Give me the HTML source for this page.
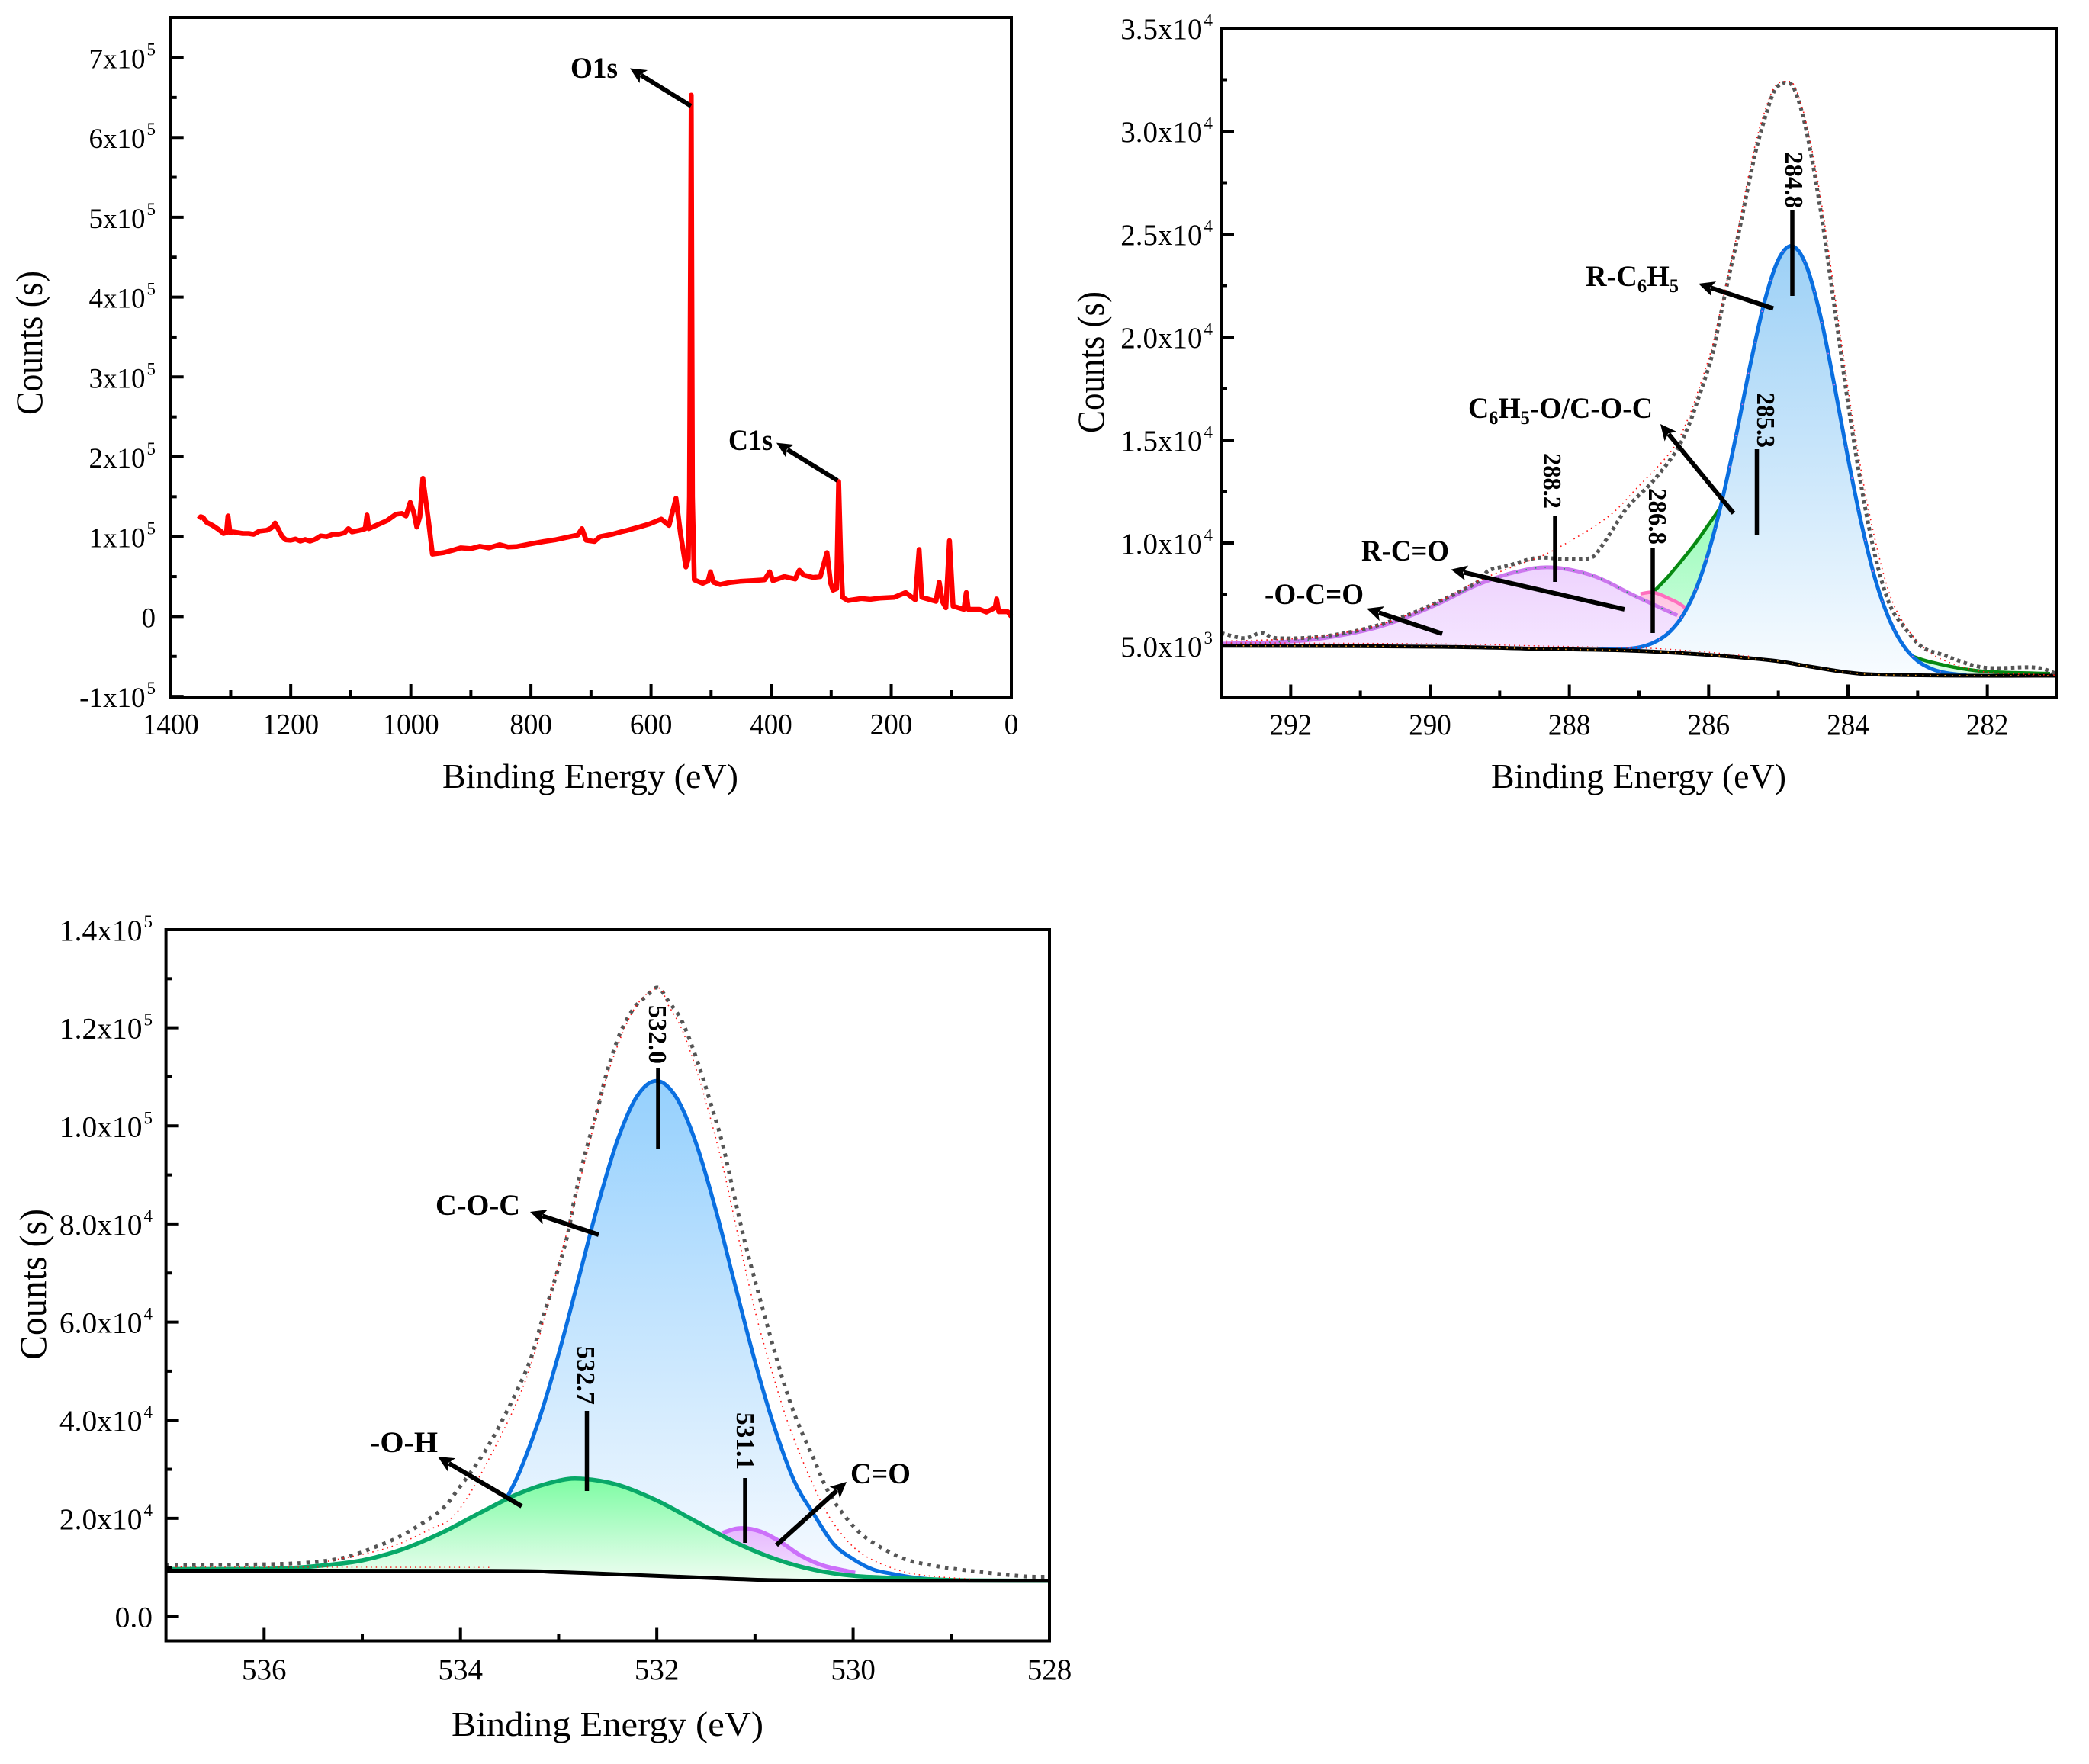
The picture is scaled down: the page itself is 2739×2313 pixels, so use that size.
<!DOCTYPE html>
<html lang="en">
<head>
<meta charset="utf-8">
<title>XPS spectra</title>
<style>
html,body{margin:0;padding:0;background:#fff;}
svg{display:block;font-family:"Liberation Serif",serif;}
</style>
</head>
<body>
<svg id="fig" xmlns="http://www.w3.org/2000/svg" width="2739" height="2313" viewBox="0 0 2739 2313">
<defs>
<linearGradient id="gBlueB" x1="0" y1="0" x2="0" y2="1"><stop offset="0" stop-color="#9cd0f6"/><stop offset="1" stop-color="#f8fcff"/></linearGradient>
<linearGradient id="gBlueC" x1="0" y1="0" x2="0" y2="1"><stop offset="0" stop-color="#95d0fd"/><stop offset="1" stop-color="#f6faff"/></linearGradient>
<linearGradient id="gPurpleB" x1="0" y1="0" x2="0" y2="1"><stop offset="0" stop-color="#eed3fe"/><stop offset="1" stop-color="#f5e6ff"/></linearGradient>
<linearGradient id="gGreenB" x1="0" y1="0" x2="0" y2="1"><stop offset="0" stop-color="#7ffca8"/><stop offset="1" stop-color="#dcfde6"/></linearGradient>
<linearGradient id="gGreenC" x1="0" y1="0" x2="0" y2="1"><stop offset="0" stop-color="#7dfca3"/><stop offset="1" stop-color="#effdf2"/></linearGradient>
<linearGradient id="gPink" x1="0" y1="0" x2="0" y2="1"><stop offset="0" stop-color="#ffc4e2"/><stop offset="1" stop-color="#ffe0f0"/></linearGradient>
<linearGradient id="gPurpleC" x1="0" y1="0" x2="0" y2="1"><stop offset="0" stop-color="#e6b8fe"/><stop offset="1" stop-color="#f4e2ff"/></linearGradient>
</defs>
<g id="panelA"></g>
<g id="panelB"></g>
<g id="panelC"></g>
</svg>
<script>
// ---------- Panel A: survey spectrum ----------
const surveyEnergy = [1353,1350,1346,1340,1330,1320,1312,1307,1304.5,1301,1296,1288,1280,1270,1262,1252,1240,1232,1226,1221,1214,1208,
1200,1192,1184,1176,1168,1160,1150,1140,1130,1120,1110,1104,1098,1085,1076,1073,1070,1055,1040,1025,1015,1008,1001,995,990,985,980,975,970,964,
945,930,917,900,885,870,852,838,824,800,778,760,741,722,715,708,694,685,665,650,639,620,602,583,570,558.5,551,542,538,536,533,531,528,
514,505,501,496,485,470,452,430,411,402.5,397,378,360,353,346,330,318,307,301,297,291,287.6,284,281,272,250,235,219,195,176,160,153.5,149,125.5,120,115,109,103,97,79,75,71.5,53,41.5,27,24.5,21,6,0];
const surveyCounts = [1.22,1.25,1.24,1.18,1.14,1.09,1.04,1.05,1.26,1.05,1.06,1.05,1.04,1.04,1.03,1.07,1.08,1.11,1.17,1.10,1.00,0.96,
0.955,0.97,0.945,0.965,0.945,0.965,1.01,1.00,1.03,1.03,1.05,1.10,1.06,1.08,1.10,1.27,1.10,1.15,1.20,1.28,1.29,1.26,1.43,1.30,1.12,1.25,1.73,1.45,1.16,0.78,
0.80,0.83,0.86,0.85,0.88,0.86,0.90,0.87,0.875,0.91,0.94,0.96,0.99,1.02,1.10,0.955,0.94,1.00,1.03,1.06,1.08,1.12,1.16,1.22,1.14,1.48,1.04,0.62,0.72,1.5,6.53,1.5,0.46,
0.415,0.445,0.56,0.43,0.40,0.425,0.44,0.45,0.46,0.56,0.45,0.50,0.47,0.58,0.52,0.49,0.50,0.80,0.42,0.33,0.35,1.69,0.7,0.24,0.20,0.225,0.215,0.23,0.24,0.30,0.21,0.84,0.24,0.19,0.43,0.19,0.11,0.95,0.13,0.09,0.30,0.09,0.09,0.055,0.11,0.22,0.06,0.06,0];
const aYTickValues = [-1,0,1,2,3,4,5,6,7];
const aYTickLabels = ['-1x10^5','0','1x10^5','2x10^5','3x10^5','4x10^5','5x10^5','6x10^5','7x10^5'];
const aYMinor = [-0.5,0.5,1.5,2.5,3.5,4.5,5.5,6.5];
const aXTickValues = [1400,1200,1000,800,600,400,200,0];
const aXTickLabels = ['1400','1200','1000','800','600','400','200','0'];
const aXMinor = [1300,1100,900,700,500,300,100];

// ---------- Panel B: C 1s ----------
const bBgEnergy = [293,291,289.6,288.4,287.1,286.07,285.1,284.6,284,283.5,282.3,281];
const bBgCounts = [5010,4990,4950,4860,4770,4580,4300,4030,3715,3600,3555,3555];
const bRawEnergy = [293,292.67,292.42,292.2,291.6,291,290.44,289.88,289.32,289.16,288.88,288.48,288.1,287.7,287.54,287.37,287.15,286.8,286.48,286.3,286.15,285.96,285.83,285.7,285.56,285.43,285.32,285.21,285.08,284.99,284.89,284.77,284.6,284.4,284.2,284,283.8,283.6,283.4,283.2,282.94,282.62,282.06,281.33,281.03];
const bRawCounts = [5630,5380,5630,5380,5440,5780,6350,7150,8100,8660,8900,9270,9230,9270,9830,10700,11800,13000,14400,15600,17000,19000,21050,23100,25200,27360,29080,30440,31800,32230,32340,32040,30060,26300,21610,16800,12580,9230,7000,5950,4960,4550,3960,3960,3680];
const bFitEnergy = [293,291.83,291,290.44,289.88,289.32,288.77,288.26,287.48,287.03,286.53,286.3,286.15,285.96,285.83,285.7,285.56,285.43,285.32,285.21,285.08,284.99,284.89,284.77,284.6,284.4,284.2,284,283.8,283.6,283.4,283.2,282.94,282.62,282.06,281.33,281];
const bFitCounts = [5230,5380,5800,6360,7150,8150,8900,9590,11180,12670,14500,16000,17400,19400,21300,23300,25500,27800,29500,30800,32000,32350,32400,32200,30400,26900,22300,17500,13300,10000,7500,6100,5000,4300,3750,3620,3580];
const bFitTailEnergy = [293,291,289.6,288.4,287.6,286.8,286.07,285.4];
const bFitTailCounts = [5150,5130,5090,5000,4950,4880,4720,4500];
const bBlueEnergy = [287.6,287.2,287,286.8,286.6,286.4,286.2,286,285.8,285.6,285.4,285.2,285,284.8,284.6,284.4,284.2,284,283.8,283.6,283.4,283.2,283,282.8,282.6,282.3];
const bBlueCounts = [4825,4860,4935,5150,5560,6335,7620,9570,12180,15330,18690,21700,23756,24420,23480,21085,17760,14125,10830,8143,6236,5000,4275,3888,3696,3570];
const bPurpleEnergy = [293,291.83,291,290.44,289.88,289.32,288.77,288.26,287.65,287.09,286.45];
const bPurpleCounts = [5110,5260,5700,6260,7050,7970,8590,8815,8400,7480,6480];
const bPinkEnergy = [286.98,286.8,286.6,286.34,286.1];
const bPinkCounts = [7530,7600,7350,6850,5800];
const bGreenEnergy = [286.8,286.6,286.4,286.2,286,285.83,285.6,285.4,285.3,285,284.8,284.4,284,283.6,283.15,282.8,282.1,281.1];
const bGreenCounts = [7600,8300,9100,9950,10900,11740,13000,14300,14800,14000,12500,9500,7000,5200,4600,4210,3780,3660];
const bYTickValues = [5000,10000,15000,20000,25000,30000,35000];
const bYTickLabels = ['5.0x10^3','1.0x10^4','1.5x10^4','2.0x10^4','2.5x10^4','3.0x10^4','3.5x10^4'];
const bYMinor = [7500,12500,17500,22500,27500,32500];
const bXTickValues = [292,290,288,286,284,282];
const bXTickLabels = ['292','290','288','286','284','282'];
const bXMinor = [291,289,287,285,283];

// ---------- Panel C: O 1s ----------
const cBgEnergy = [537,533.69,532.97,532.02,531.19,530.42,528];
const cBgCounts = [9330,9280,9020,8290,7620,7310,7260];
const cRawEnergy = [537,535.8,535.23,534.87,534.58,534.22,534.04,533.7,533.33,533.17,533.04,532.91,532.84,532.73,532.6,532.51,532.38,532.24,532.11,531.99,531.88,531.74,531.59,531.46,531.33,531.22,531.1,530.97,530.82,530.69,530.56,530.4,530.25,530.04,529.83,529.5,529.23,528.85,528.28,528];
const cRawCounts = [10470,10730,11800,14150,16700,21350,25500,35350,50190,60290,68500,77660,84970,94300,103620,110820,118600,123830,126370,128190,125390,121190,113420,105180,96320,86520,76100,66310,55430,46560,39300,32100,25310,19360,15470,11890,10540,9400,8210,8100];
const cFitEnergy = [535.35,534.76,534.34,534.04,533.7,533.33,533.04,532.73,532.51,532.24,531.99,531.88,531.74,531.59,531.46,531.33,531.22,531.1,530.97,530.82,530.69,530.56,530.4,530.25,530.04,529.83,529.5,529.2,528.8];
const cFitCounts = [11240,13850,17470,21150,32500,48500,68800,93000,110000,123500,128100,124500,119500,111000,102000,92000,82000,71000,60000,49500,41000,34000,26500,20500,15000,11800,9200,8200,7600];
const cFitTailEnergy = [537,535.5,533.7];
const cFitTailCounts = [10100,10050,10000];
const cBlueEnergy = [533.55,533.4,533.2,533,532.8,532.6,532.4,532.2,532,531.8,531.6,531.4,531.2,531,530.8,530.6,530.4,530.2,530,529.8,529.6,529.4,529.2,529];
const cBlueCounts = [23350,29390,40090,53480,68590,83850,97120,106080,109180,105760,96490,82920,67350,51980,38450,27600,20810,14800,11690,9590,8680,7980,7570,7300];
const cPurpleEnergy = [531.33,531.16,530.95,530.74,530.53,530.3,530.06,529.98];
const cPurpleCounts = [17020,17960,17340,15200,12360,10340,9250,8900];
const cGreenEnergy = [537,536.2,535.8,535.4,535,534.6,534.2,533.8,533.4,533,532.75,532.4,532,531.6,531.2,530.8,530.4,530,529.6,529.2,528.8,528];
const cGreenCounts = [9650,9680,9800,10400,11430,13620,16960,21130,25090,27660,28040,26830,23630,19350,15100,11770,9510,8280,7850,7550,7320,7260];
const cYTickValues = [0,20000,40000,60000,80000,100000,120000,140000];
const cYTickLabels = ['0.0','2.0x10^4','4.0x10^4','6.0x10^4','8.0x10^4','1.0x10^5','1.2x10^5','1.4x10^5'];
const cYMinor = [10000,30000,50000,70000,90000,110000,130000];
const cXTickValues = [536,534,532,530,528];
const cXTickLabels = ['536','534','532','530','528'];
const cXMinor = [535,533,531,529];

const NS = 'http://www.w3.org/2000/svg';
function mk(parent, tag, attrs, text) {
  const el = document.createElementNS(NS, tag);
  for (const k in attrs) el.setAttribute(k, attrs[k]);
  if (text !== undefined) el.textContent = text;
  parent.appendChild(el);
  return el;
}
function scale(d0, d1, r0, r1) { return v => r0 + (v - d0) / (d1 - d0) * (r1 - r0); }
function interp(es, vs, e) {
  for (let i = 0; i < es.length - 1; i++) {
    if (e <= es[i] && e >= es[i + 1]) return vs[i] + (vs[i + 1] - vs[i]) * (es[i] - e) / (es[i] - es[i + 1]);
  }
  return e > es[0] ? vs[0] : vs[vs.length - 1];
}
function poly(es, vs, X, Y) {
  return es.map((e, i) => (i ? 'L' : 'M') + X(e).toFixed(1) + ' ' + Y(vs[i]).toFixed(1)).join('');
}
function smooth(es, vs, X, Y) {
  const p = es.map((e, i) => [X(e), Y(vs[i])]);
  let d = 'M' + p[0][0].toFixed(1) + ' ' + p[0][1].toFixed(1);
  for (let i = 0; i < p.length - 1; i++) {
    const a = p[Math.max(i - 1, 0)], b = p[i], c = p[i + 1], e = p[Math.min(i + 2, p.length - 1)];
    d += 'C' + (b[0] + (c[0] - a[0]) / 6).toFixed(1) + ' ' + (b[1] + (c[1] - a[1]) / 6).toFixed(1) + ' ' +
      (c[0] - (e[0] - b[0]) / 6).toFixed(1) + ' ' + (c[1] - (e[1] - b[1]) / 6).toFixed(1) + ' ' +
      c[0].toFixed(1) + ' ' + c[1].toFixed(1);
  }
  return d;
}
function areaPath(es, vs, bgE, bgV, X, Y) {
  let d = smooth(es, vs, X, Y);
  const start = es[0], end = es[es.length - 1];
  d += 'L' + X(end).toFixed(1) + ' ' + Y(interp(bgE, bgV, end)).toFixed(1);
  for (let i = bgE.length - 1; i >= 0; i--) {
    if (bgE[i] > end && bgE[i] < start) d += 'L' + X(bgE[i]).toFixed(1) + ' ' + Y(bgV[i]).toFixed(1);
  }
  d += 'L' + X(start).toFixed(1) + ' ' + Y(interp(bgE, bgV, start)).toFixed(1) + 'Z';
  return d;
}
function labelText(g, x, y, label, size, supSize, name) {
  const parts = label.split('^');
  const t = mk(g, 'text', { x: x, y: y, 'text-anchor': 'end', 'font-size': size, fill: '#000' });
  
  
  mk(t, 'tspan', {}, parts[0]);
  if (parts[1]) {
    mk(t, 'tspan', { 'font-size': supSize, dy: -17, dx: 2 }, parts[1]);
  }
}
function axes(g, cfg) {
  const { L, R, T, B, X, Y } = cfg;
  cfg.xTicks.forEach((v, i) => {
    const l = mk(g, 'line', { x1: X(v), x2: X(v), y1: B, y2: B - 17, stroke: '#000', 'stroke-width': 4 });
    
    
    const t = mk(g, 'text', { x: X(v), y: cfg.xLabelY, 'text-anchor': 'middle', 'font-size': 39, textLength: cfg.xLabels[i].length * cfg.xTickSize / 2, lengthAdjust: 'spacingAndGlyphs', fill: '#000' }, cfg.xLabels[i]);
    
    
  });
  cfg.xMinor.forEach(v => {
    const l = mk(g, 'line', { x1: X(v), x2: X(v), y1: B, y2: B - 9, stroke: '#000', 'stroke-width': 4 });
    
    
  });
  cfg.yTicks.forEach((v, i) => {
    const l = mk(g, 'line', { x1: L, x2: L + 17, y1: Y(v), y2: Y(v), stroke: '#000', 'stroke-width': 4 });
    
    
    labelText(g, cfg.yLabelX, Y(v) + 14, cfg.yLabels[i], cfg.tickSize, 23, 'y-tick-label');
  });
  cfg.yMinor.forEach(v => {
    const l = mk(g, 'line', { x1: L, x2: L + 8, y1: Y(v), y2: Y(v), stroke: '#000', 'stroke-width': 4 });
    
    
  });
  const f = mk(g, 'rect', { x: L, y: T, width: R - L, height: B - T, fill: 'none', stroke: '#000', 'stroke-width': 4 });
  
  
  const xt = mk(g, 'text', { x: cfg.xTitle[0], y: cfg.xTitle[1], 'font-size': 46, textLength: cfg.xTitle[2], lengthAdjust: 'spacingAndGlyphs', fill: '#000' }, 'Binding Energy (eV)');
  
  
  const yt = mk(g, 'text', { transform: 'translate(' + cfg.yTitle[0] + ' ' + cfg.yTitle[1] + ') rotate(-90)', x: 0, y: 0, 'font-size': 50, textLength: cfg.yTitle[2], lengthAdjust: 'spacingAndGlyphs', fill: '#000' }, 'Counts (s)');
  
  
}
function arrow(g, x1, y1, x2, y2, name) {
  const dx = x2 - x1, dy = y2 - y1, len = Math.hypot(dx, dy), ux = dx / len, uy = dy / len, px = -uy, py = ux;
  const bx = x2 - ux * 21, by = y2 - uy * 21;
  const s = mk(g, 'line', { x1: x1, y1: y1, x2: bx + ux * 4, y2: by + uy * 4, stroke: '#000', 'stroke-width': 6 });
  
  
  const h = mk(g, 'polygon', { points: x2 + ',' + y2 + ' ' + (bx + px * 10) + ',' + (by + py * 10) + ' ' + (x2 - ux * 16) + ',' + (y2 - uy * 16) + ' ' + (bx - px * 10) + ',' + (by - py * 10), fill: '#000' });
  
  
}
function boldLabel(g, x, y, w, parts, name) {
  const t = mk(g, 'text', { x: x, y: y, 'font-size': 39, 'font-weight': 'bold', textLength: w, lengthAdjust: 'spacingAndGlyphs', fill: '#000' });
  
  
  parts.forEach(p => {
    if (Array.isArray(p)) {
      mk(t, 'tspan', { 'font-size': 25, dy: 8 }, p[0]);
      mk(t, 'tspan', { dy: -8, 'font-size': 1 }, '\u200b');
    } else {
      mk(t, 'tspan', {}, p);
    }
  });
}
function peakMark(g, lx, y1, y2, tx, ty, len, text, name) {
  const l = mk(g, 'line', { x1: lx, x2: lx, y1: y1, y2: y2, stroke: '#000', 'stroke-width': 5.5 });
  
  
  const t = mk(g, 'text', { transform: 'translate(' + tx + ' ' + ty + ') rotate(90)', x: 0, y: 0, 'font-size': 34, 'font-weight': 'bold', textLength: len, lengthAdjust: 'spacingAndGlyphs', fill: '#000' }, text);
  
  
}
function curve(g, d, attrs, name) {
  const base = { d: d, fill: 'none', 'stroke-linejoin': 'round' };
  for (const k in attrs) base[k] = attrs[k];
  const p = mk(g, 'path', base);
  
  
  return p;
}

// ---- draw panel A ----
(function () {
  const g = document.getElementById('panelA');
  const X = scale(1400, 0, 223.7, 1326), Y = scale(0, 1, 808.4, 703.7);
  curve(g, poly(surveyEnergy, surveyCounts, X, Y), { stroke: '#ff0000', 'stroke-width': 6.5 }, 'survey-spectrum-line');
  axes(g, {
    L: 223.7, R: 1326, T: 23, B: 914, X: X, Y: Y,
    xTicks: aXTickValues, xLabels: aXTickLabels, xMinor: aXMinor,
    yTicks: aYTickValues, yLabels: aYTickLabels, yMinor: aYMinor,
    yLabelX: 204, xLabelY: 962.7, tickSize: 37, xTickSize: 37, xTitle: [580, 1033, 388], yTitle: [55, 544, 189]
  });
  boldLabel(g, 748, 102, 62, ['O1s'], 'o1s-label');
  arrow(g, 906, 139, 826, 89.5, 'o1s');
  boldLabel(g, 955, 590, 58, ['C1s'], 'c1s-label');
  arrow(g, 1098, 630, 1018, 580.6, 'c1s');
})();

// ---- draw panel B ----
(function () {
  const g = document.getElementById('panelB');
  const X = scale(293, 281, 1601, 2697), Y = scale(2500, 35000, 914.5, 37);
  curve(g, areaPath(bGreenEnergy, bGreenCounts, bBgEnergy, bBgCounts, X, Y), { fill: 'url(#gGreenB)' }, 'c6h5o-peak-area');
  curve(g, smooth(bGreenEnergy, bGreenCounts, X, Y), { stroke: '#078a12', 'stroke-width': 4.5 }, 'c6h5o-peak-line');
  curve(g, areaPath(bPinkEnergy, bPinkCounts, bBgEnergy, bBgCounts, X, Y), { fill: 'url(#gPink)' }, 'rco-pink-peak-area');
  curve(g, smooth(bPinkEnergy, bPinkCounts, X, Y), { stroke: '#ff6fbe', 'stroke-width': 4.5 }, 'pink-peak-line');
  curve(g, areaPath(bPurpleEnergy, bPurpleCounts, bBgEnergy, bBgCounts, X, Y), { fill: 'url(#gPurpleB)' }, 'purple-peak-area');
  curve(g, smooth(bPurpleEnergy, bPurpleCounts, X, Y), { stroke: '#cc77ee', 'stroke-width': 5 }, 'purple-peak-line');
  curve(g, smooth(bPurpleEnergy, bPurpleCounts, X, Y), { stroke: '#1aa060', 'stroke-width': 1.6, 'stroke-dasharray': '1.6 11' }, 'purple-peak-dots');
  curve(g, areaPath(bBlueEnergy, bBlueCounts, bBgEnergy, bBgCounts, X, Y), { fill: 'url(#gBlueB)' }, 'blue-peak-area');
  curve(g, smooth(bBlueEnergy, bBlueCounts, X, Y), { stroke: '#0a6fe0', 'stroke-width': 5 }, 'blue-peak-line');
  curve(g, smooth(bBlueEnergy, bBlueCounts, X, Y), { stroke: '#e070e0', 'stroke-width': 1.6, 'stroke-dasharray': '1.6 40' }, 'blue-peak-dots');
  curve(g, smooth(bBgEnergy, bBgCounts, X, Y), { stroke: '#000', 'stroke-width': 5 }, 'background-line');
  curve(g, smooth(bBgEnergy, bBgCounts, X, Y), { stroke: '#f0a020', 'stroke-width': 1.6, 'stroke-dasharray': '1.6 8' }, 'background-dots');
  curve(g, smooth(bRawEnergy, bRawCounts, X, Y), { stroke: '#555', 'stroke-width': 5, 'stroke-dasharray': '4.5 4.5', 'stroke-linejoin': 'miter' }, 'raw-data-line');
  curve(g, smooth(bFitEnergy, bFitCounts, X, Y), { stroke: '#ff1010', 'stroke-width': 1.6, 'stroke-dasharray': '1.6 5' }, 'envelope-fit-line');
  curve(g, smooth(bFitTailEnergy, bFitTailCounts, X, Y), { stroke: '#ff1010', 'stroke-width': 1.4, 'stroke-dasharray': '1.4 5' }, 'envelope-baseline-dots');
  axes(g, {
    L: 1601, R: 2697, T: 37, B: 914.5, X: X, Y: Y,
    xTicks: bXTickValues, xLabels: bXTickLabels, xMinor: bXMinor,
    yTicks: bYTickValues, yLabels: bYTickLabels, yMinor: bYMinor,
    yLabelX: 1590, xLabelY: 963, tickSize: 39, xTickSize: 37, xTitle: [1955, 1033, 387], yTitle: [1447, 568, 186]
  });
  peakMark(g, 2350, 276, 388, 2341, 199, 74, '284.8', 'peak-284-8');
  peakMark(g, 2303.5, 589, 701, 2304, 515, 72, '285.3', 'peak-285-3');
  peakMark(g, 2039, 676, 763, 2024, 594, 73, '288.2', 'peak-288-2');
  peakMark(g, 2167, 718, 830, 2162, 640, 74, '286.8', 'peak-286-8');
  boldLabel(g, 2079, 375, 122, ['R-C', ['6'], 'H', ['5']], 'r-c6h5-label');
  arrow(g, 2325, 404.5, 2227, 372, 'r-c6h5');
  boldLabel(g, 1925, 548, 242, ['C', ['6'], 'H', ['5'], '-O/C-O-C'], 'c6h5o-coc-label');
  arrow(g, 2273, 673, 2177, 556, 'c6h5o-coc');
  boldLabel(g, 1785, 735, 115, ['R-C=O'], 'r-c-o-label');
  arrow(g, 2130, 799, 1902.5, 746.7, 'r-c-o');
  boldLabel(g, 1658, 792, 130, ['-O-C=O'], 'o-c-o-label');
  arrow(g, 1891, 831, 1792, 798, 'o-c-o');
})();

// ---- draw panel C ----
(function () {
  const g = document.getElementById('panelC');
  const X = scale(537, 528, 217.6, 1376), Y = scale(0, 140000, 2119.5, 1219);
  curve(g, areaPath(cBlueEnergy, cBlueCounts, cBgEnergy, cBgCounts, X, Y), { fill: 'url(#gBlueC)' }, 'coc-peak-area');
  curve(g, smooth(cBlueEnergy, cBlueCounts, X, Y), { stroke: '#0a6fe0', 'stroke-width': 5 }, 'coc-peak-line');
  curve(g, areaPath(cPurpleEnergy, cPurpleCounts, cBgEnergy, cBgCounts, X, Y), { fill: 'url(#gPurpleC)' }, 'co-peak-area');
  curve(g, smooth(cPurpleEnergy, cPurpleCounts, X, Y), { stroke: '#cc70fa', 'stroke-width': 5.5 }, 'co-peak-line');
  curve(g, areaPath(cGreenEnergy, cGreenCounts, cBgEnergy, cBgCounts, X, Y), { fill: 'url(#gGreenC)' }, 'oh-peak-area');
  curve(g, smooth(cGreenEnergy, cGreenCounts, X, Y), { stroke: '#08a868', 'stroke-width': 5.5 }, 'oh-peak-line');
  curve(g, smooth(cBgEnergy, cBgCounts, X, Y), { stroke: '#000', 'stroke-width': 5 }, 'background-line');
  curve(g, smooth(cRawEnergy, cRawCounts, X, Y), { stroke: '#555', 'stroke-width': 5, 'stroke-dasharray': '4.5 7', 'stroke-linejoin': 'miter' }, 'raw-data-line');
  curve(g, smooth(cFitEnergy, cFitCounts, X, Y), { stroke: '#ff1010', 'stroke-width': 1.6, 'stroke-dasharray': '1.6 5' }, 'envelope-fit-line');
  curve(g, smooth(cFitTailEnergy, cFitTailCounts, X, Y), { stroke: '#ff1010', 'stroke-width': 1.4, 'stroke-dasharray': '1.4 5' }, 'envelope-baseline-dots');
  axes(g, {
    L: 217.6, R: 1376, T: 1219, B: 2151.5, X: X, Y: Y,
    xTicks: cXTickValues, xLabels: cXTickLabels, xMinor: cXMinor,
    yTicks: cYTickValues, yLabels: cYTickLabels, yMinor: cYMinor,
    yLabelX: 200, xLabelY: 2202, tickSize: 39.5, xTickSize: 39, xTitle: [592, 2276, 409], yTitle: [60, 1783, 198]
  });
  peakMark(g, 863, 1401, 1507, 851, 1318, 77, '532.0', 'peak-532-0');
  peakMark(g, 769.5, 1850, 1955, 757, 1765, 77, '532.7', 'peak-532-7');
  peakMark(g, 977, 1938, 2023, 966, 1852, 75, '531.1', 'peak-531-1');
  boldLabel(g, 571, 1593, 111, ['C-O-C'], 'coc-label');
  arrow(g, 785, 1619, 695, 1589, 'coc');
  boldLabel(g, 485, 1904, 89, ['-O-H'], 'oh-label');
  arrow(g, 684, 1975, 574, 1910, 'oh');
  boldLabel(g, 1115, 1945, 79, ['C=O'], 'co-label');
  arrow(g, 1018, 2026, 1110, 1943, 'co');
})();
</script>
</body>
</html>
